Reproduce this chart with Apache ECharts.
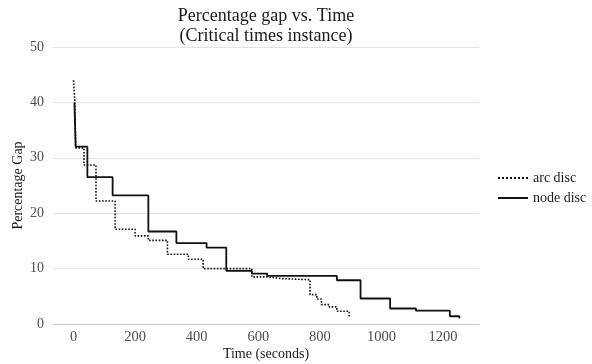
<!DOCTYPE html>
<html>
<head>
<meta charset="utf-8">
<script src="https://cdn.jsdelivr.net/npm/echarts@6/dist/echarts.min.js"></script>
<style>
html,body{margin:0;padding:0;background:#fff;}
#chart{width:592px;height:364px;}
</style>
</head>
<body>
<div id="chart"></div>
<script>
// ---- data ----
var seriesNames = ['arc disc', 'node disc'];
var arcTime = [0, 2, 4, 7, 34, 73, 135, 200, 243, 305, 373, 421, 579, 628, 676, 768, 790, 805, 830, 855, 895];
var arcGap  = [44, 42, 40.5, 31.8, 28.7, 22.2, 17.1, 15.9, 15.1, 12.6, 11.7, 10.0, 8.5, 8.2, 8.0, 5.3, 4.5, 3.5, 3.1, 2.3, 1.3];
var nodeTime = [3, 7, 45, 127, 243, 334, 432, 496, 579, 629, 855, 932, 1028, 1112, 1222, 1253];
var nodeGap  = [40, 32, 26.5, 23.2, 16.7, 14.6, 13.8, 9.6, 9.1, 8.7, 7.9, 4.6, 2.8, 2.4, 1.4, 1.0];
var xTicks = [0, 200, 400, 600, 800, 1000, 1200];
var yTicks = [0, 10, 20, 30, 40, 50];

function zip(a, b) { return a.map(function (v, i) { return [v, b[i]]; }); }

var FONT = '"Liberation Serif", "DejaVu Serif", serif';
var chart = echarts.init(document.getElementById('chart'), null, {renderer: 'canvas'});
chart.setOption({
  animation: false,
  backgroundColor: '#ffffff',
  textStyle: {fontFamily: FONT},
  graphic: [
    {type: 'text', x: 266, y: 16, style: {text: 'Percentage gap vs. Time', font: '18px ' + FONT, fill: '#1a1a1a', align: 'center', verticalAlign: 'middle'}},
    {type: 'text', x: 266, y: 36, style: {text: '(Critical times instance)', font: '18px ' + FONT, fill: '#1a1a1a', align: 'center', verticalAlign: 'middle'}}
  ],
  grid: {left: 53, right: 113, top: 47, bottom: 40, containLabel: false, outerBoundsMode: 'none'},
  legend: {
    orient: 'vertical', left: 492, top: 166,
    itemWidth: 30, itemHeight: 14, itemGap: 6,
    itemStyle: {opacity: 0},
    textStyle: {fontFamily: FONT, fontSize: 14, color: '#1a1a1a'},
    data: seriesNames
  },
  xAxis: {
    type: 'value', min: -66.6, max: 1316.6,
    name: 'Time (seconds)', nameLocation: 'middle', nameGap: 23, nameMoveOverlap: false,
    nameTextStyle: {fontFamily: FONT, fontSize: 14, color: '#1a1a1a'},
    axisLine: {show: true, lineStyle: {color: '#c8c8c8', width: 1}},
    axisTick: {show: false},
    splitLine: {show: false},
    axisLabel: {customValues: xTicks, formatter: function (v) { return String(v); }, fontFamily: FONT, fontSize: 14.5, color: '#4d4d4d', margin: 6}
  },
  yAxis: {
    type: 'value', min: yTicks[0], max: yTicks[yTicks.length - 1], interval: 10,
    name: 'Percentage Gap', nameLocation: 'middle', nameGap: 28, nameMoveOverlap: false,
    nameTextStyle: {fontFamily: FONT, fontSize: 14, color: '#1a1a1a'},
    axisLine: {show: false},
    axisTick: {show: false},
    splitLine: {show: true, lineStyle: {color: '#e3e3e3', width: 1}},
    axisLabel: {fontFamily: FONT, fontSize: 14, color: '#4d4d4d', margin: 9}
  },
  series: [
    {
      name: seriesNames[0], type: 'line', step: 'end', symbol: 'none',
      data: zip(arcTime, arcGap),
      lineStyle: {color: '#111', width: 1.6, type: 'dotted'},
      itemStyle: {color: '#111'}
    },
    {
      name: seriesNames[1], type: 'line', step: 'end', symbol: 'none',
      data: zip(nodeTime, nodeGap),
      lineStyle: {color: '#111', width: 1.8, type: 'solid'},
      itemStyle: {color: '#111'}
    }
  ]
});
</script>
</body>
</html>
